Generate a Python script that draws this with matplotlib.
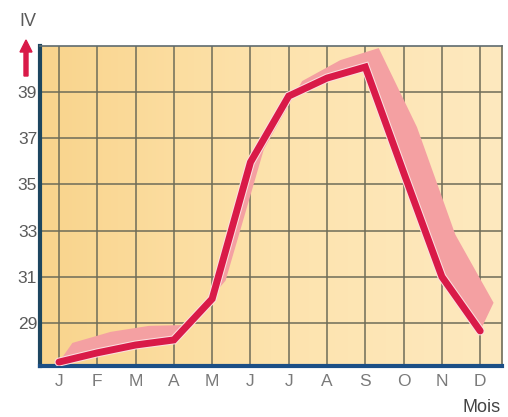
import numpy as np
import matplotlib.pyplot as plt
from matplotlib.patches import Polygon, FancyArrow
import matplotlib.patheffects as pe

# data
months = ["J", "F", "M", "A", "M", "J", "J", "A", "S", "O", "N", "D"]
iv_values = [27.30, 27.70, 28.04, 28.26, 30.04, 35.96, 38.83, 39.61, 40.09, 35.52, 31.0, 28.65]
band_outer = [28.13, 28.61, 28.87, 28.91, 30.83, 36.52, 39.48, 40.39, 40.91, 37.48, 32.83, 29.87]
y_ticks = [29, 31, 33, 35, 37, 39]

band_shift = 0.35  # horizontal shift of the pink band, in months

font = ["Liberation Sans Narrow", "Liberation Sans", "DejaVu Sans"]

fig = plt.figure(figsize=(5.08, 4.17), dpi=100)
ax = fig.add_axes([40 / 508, 1 - 366 / 417, 462 / 508, 320 / 417])

x = np.arange(len(months))
ax.set_xlim(-0.496, 11.57)
ax.set_ylim(27.13, 41.0)

# background gradient (orange on the left, paler on the right)
grad = np.linspace(0, 1, 256).reshape(1, -1)
from matplotlib.colors import LinearSegmentedColormap
cmap = LinearSegmentedColormap.from_list("bg", ["#f9d48c", "#fde3ad", "#fee9bf"])
ax.imshow(grad, extent=[0, 1, 0, 1], transform=ax.transAxes, aspect="auto",
          cmap=cmap, zorder=0)

# grid
for xi in x:
    ax.axvline(xi, color="#6e6c58", lw=1.1, zorder=1)
for yt in y_ticks:
    ax.axhline(yt, color="#6e6c58", lw=1.1, zorder=1)

# pink band
outer = np.column_stack([x + band_shift, band_outer])
inner = np.column_stack([x, iv_values])
poly = Polygon(np.vstack([inner, outer[::-1]]), closed=True, facecolor="#f4a0a2",
               edgecolor="none", zorder=2)
ax.add_patch(poly)

# red line
ax.plot(x, iv_values, color="#d91a48", lw=5, solid_joinstyle="miter",
        solid_capstyle="round", zorder=3,
        path_effects=[pe.Stroke(linewidth=6.5, foreground="#fbe0e0"), pe.Normal()])

# axes styling
ax.set_xticks(x)
ax.set_xticklabels(months)
ax.set_yticks(y_ticks)
ax.tick_params(axis="both", length=0, labelsize=12.5, labelcolor="#5a5a5a")
ax.tick_params(axis="x", pad=6, labelcolor="#7a7a7a")
ax.tick_params(axis="y", pad=2)
for lab in ax.get_xticklabels() + ax.get_yticklabels():
    lab.set_family(font)

ax.spines["left"].set_color("#1d4660")
ax.spines["left"].set_linewidth(3)
ax.spines["bottom"].set_color("#1c4f86")
ax.spines["bottom"].set_linewidth(3)
ax.spines["top"].set_color("#5f6b6e")
ax.spines["top"].set_linewidth(1.2)
ax.spines["right"].set_color("#6e6c58")
ax.spines["right"].set_linewidth(1.2)

# axis title and arrow
fig.text(28 / 508, 1 - 22 / 417, "IV", ha="center", va="center", fontsize=13,
         color="#5a5a5a", family=font)
arrow = FancyArrow(26 / 508, 1 - 76 / 417, 0, 36 / 417, width=4 / 508,
                   head_width=12 / 508, head_length=12 / 417,
                   length_includes_head=True, transform=fig.transFigure,
                   color="#d91a48")
fig.patches.append(arrow)

fig.text(482 / 508, 1 - 407 / 417, "Mois", ha="center", va="center", fontsize=13,
         color="#444444", family=font)

fig.savefig("out.png", dpi=100)
